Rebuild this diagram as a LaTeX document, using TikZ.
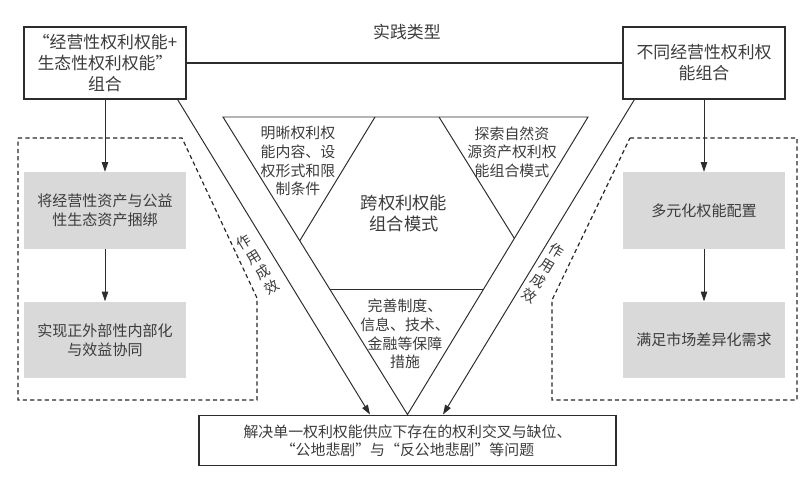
\documentclass[tikz,border=0pt]{standalone}
\usepackage{fontspec}
\setmainfont{Noto Sans CJK SC}
\usepackage{xcolor}
\definecolor{lcline}{RGB}{45,45,45}
\definecolor{lctext}{RGB}{60,60,60}
\definecolor{lcfill}{RGB}{217,217,217}
\usetikzlibrary{arrows.meta,positioning,calc}
\tikzset{
  topbox/.style={draw=lcline, line width=0.8pt, fill=white, text=lctext, align=center, minimum width=4.05cm, minimum height=1.8cm, font=\fontsize{12}{15}\selectfont},
  greybox/.style={fill=lcfill, text=lctext, align=center, minimum width=4.05cm, minimum height=1.92cm, font=\fontsize{10.7}{13.6}\selectfont},
  botbox/.style={draw=lcline, line width=0.8pt, fill=white, text=lctext, align=center, minimum width=10.42cm, minimum height=1.27cm, font=\fontsize{10.6}{12.8}\selectfont},
  hexlbl/.style={text=lctext, align=center, inner sep=0pt, font=\fontsize{10.6}{13.3}\selectfont},
  effect/.style={text=lctext, align=center, inner sep=0pt, font=\fontsize{10.2}{12.6}\selectfont},
  tri/.style={draw=lcline, line width=0.7pt},
  dashline/.style={draw=lcline!90!black, line width=0.85pt, dash pattern=on 3pt off 2.2pt},
  arr/.style={-{Triangle[length=2.4mm,width=1.6mm]}, draw=lcline, line width=0.7pt}
}

\begin{document}
\begin{tikzpicture}[x=0.025cm, y=-0.025cm]
  \useasboundingbox (0,0) rectangle (812,486);
  % dashed regions
  \draw[dashline] (18,138) -- (182,138) -- (257,298) -- (257,400) -- (18,400) -- cycle;
  \draw[dashline] (630,138) -- (797,138) -- (797,400) -- (552,400) -- (552,300) -- cycle;

  \node[topbox] (lt) at (105,63) {“经营性权利权能+\\生态性权利权能”\\组合};
  \node[topbox] (rt) at (704,63) {不同经营性权利权\\能组合};
  \draw[line width=0.8pt, lcline] (lt) -- node[above=0.45cm, text=lctext, font=\fontsize{12}{15}\selectfont, xshift=0.06cm] (kind) {实践类型} (rt);

  \node[greybox] (g1) at (105,210.5) {将经营性资产与公益\\性生态资产捆绑};
  \node[greybox] (g2) at (105,340) {实现正外部性内部化\\与效益协同};
  \node[greybox] (g3) at (704,210.5) {多元化权能配置};
  \node[greybox] (g4) at (704,340) {满足市场差异化需求};
  \node[botbox] (bt) at (407.5,440.5) {解决单一权利权能供应下存在的权利交叉与缺位、\\“公地悲剧”与“反公地悲剧”等问题};

  \draw[arr] (lt) -- (g1);
  \draw[arr] (g1) -- (g2);
  \draw[arr] (rt) -- (g3);
  \draw[arr] (g3) -- (g4);

  % inverted triangle
  \coordinate (tl) at (223,117);
  \coordinate (tr) at (588,117);
  \coordinate (apex) at (bt.north);
  \coordinate (il) at (375,117);
  \coordinate (ir) at (439,117);
  \draw[tri] (tl) -- (tr) -- (apex) -- cycle;
  \draw[tri] (il) -- ($(tl)!0.416!(apex)$);
  \draw[tri] (ir) -- ($(tr)!0.408!(apex)$);
  \draw[tri] ($(tl)!0.5805!(apex)$) -- ($(tr)!0.5805!(apex)$);

  \node[hexlbl] (clear) at (298,161) {明晰权利权\\能内容、设\\权形式和限\\制条件};
  \node[hexlbl] (explore) at (512,152) {探索自然资\\源资产权利权\\能组合模式};
  \node[hexlbl, font=\fontsize{12.3}{15}\selectfont] (cross) at (404,213) {跨权利权能\\组合模式};
  \node[hexlbl] (guard) at (405,334) {完善制度、\\信息、技术、\\金融等保障\\措施};

  % effect arrows
  \draw[arr] ($(lt.south east)+(-9,0)$) -- ($(bt.north)+(-37.5,0)$);
  \draw[arr] ($(rt.south west)+(12,0)$) -- ($(bt.north)+(35.5,0)$);
  \node[effect, rotate=31.6] (effl) at (258,265) {作\\用\\成\\效};
  \node[effect, rotate=-31.4] (effr) at (543,273) {作\\用\\成\\效};
\end{tikzpicture}
\end{document}
